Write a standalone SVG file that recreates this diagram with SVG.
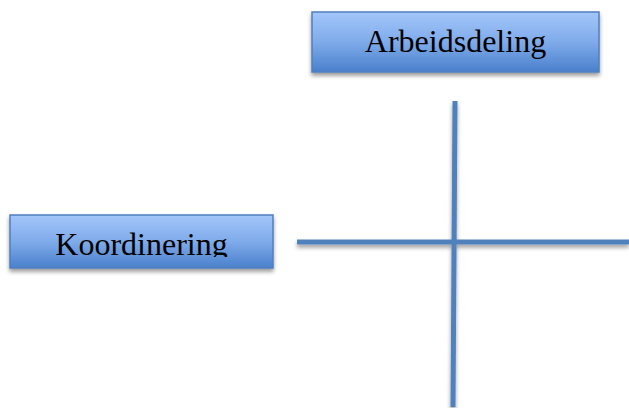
<svg xmlns="http://www.w3.org/2000/svg" width="629" height="408" viewBox="0 0 629 408">
  <defs>
    <linearGradient id="boxFill" x1="0" y1="0" x2="0" y2="1">
      <stop offset="0" stop-color="#a3c6fa"/>
      <stop offset="0.5" stop-color="#7fabea"/>
      <stop offset="1" stop-color="#4a80cc"/>
    </linearGradient>
    <filter id="shadow" x="-10%" y="-20%" width="120%" height="160%">
      <feGaussianBlur in="SourceAlpha" stdDeviation="2"/>
      <feOffset dx="0" dy="3" result="b"/>
      <feComponentTransfer><feFuncA type="linear" slope="0.4"/></feComponentTransfer>
      <feMerge><feMergeNode/><feMergeNode in="SourceGraphic"/></feMerge>
    </filter>
    <clipPath id="clipKoord">
      <rect x="10" y="215" width="263" height="42"/>
    </clipPath>
  </defs>
  <style>
    .box { fill: url(#boxFill); stroke: #4f7fbe; stroke-width: 1.5; }
    .label { font-family: "Liberation Serif", "Times New Roman", serif; font-size: 32px; fill: #000; text-anchor: middle; }
    .axis { stroke: #4f81bd; stroke-width: 5; fill: none; }
  </style>

  <g id="connectors" filter="url(#shadow)">
    <line class="axis" x1="455" y1="101" x2="453" y2="407"/>
    <line class="axis" x1="297" y1="242" x2="629" y2="242"/>
  </g>

  <g id="arbeidsdeling">
    <rect class="box" x="312" y="12" width="287" height="60" filter="url(#shadow)"/>
    <text class="label" x="455.5" y="52">Arbeidsdeling</text>
  </g>

  <g id="koordinering">
    <rect class="box" x="10" y="215" width="263" height="53" filter="url(#shadow)"/>
    <text class="label" x="141.5" y="255" clip-path="url(#clipKoord)">Koordinering</text>
  </g>
</svg>
